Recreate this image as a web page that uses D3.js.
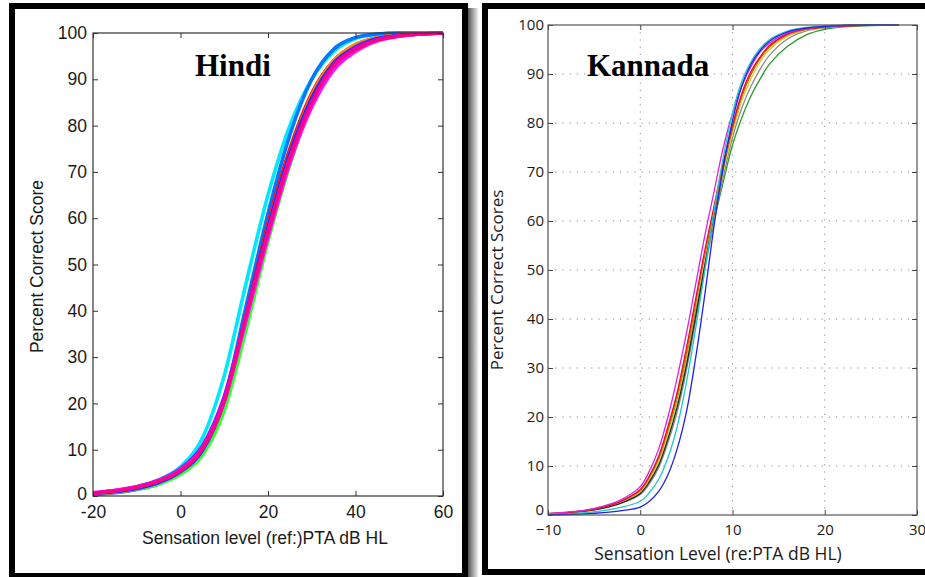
<!DOCTYPE html>
<html><head><meta charset="utf-8">
<script src="https://cdn.jsdelivr.net/npm/d3@7"></script>
<style>
html,body{margin:0;padding:0;background:#fff;}
svg{display:block;}
</style></head>
<body>
<script>
// ---------- DATA ----------
// Hindi panel: sensation level (dB) sample points
const hindiX = [-20,-15,-10,-5,0,5,10,15,20,25,30,35,40,45,50,55,60];
const hindiXTicks = [-20,0,20,40,60];
const hindiYTicks = [0,10,20,30,40,50,60,70,80,90,100];
const hindiCyan    = [0.6,1.1,2.0,3.5,6.3,12.5,26,46,65,80,90,96,98.8,99.7,100,100,100];
const hindiBlue    = [0.3,0.7,1.4,2.6,5.0,9.8,21,41,61,78,90,96.5,99,99.8,100,100,100];
const hindiRed     = [0.5,0.9,1.6,2.9,5.2,9.8,20.5,39,59,75,87,94,97.5,99,99.6,99.9,100];
const hindiOrange  = [0.4,0.8,1.5,2.7,4.9,9.3,19.5,38,58,74,86.5,94,97.5,99,99.6,99.9,100];
const hindiYellow  = [0.5,0.9,1.6,2.8,5.0,9.3,19.5,38,57,73,85,93,97,98.8,99.5,99.8,100];
const hindiGreen   = [0.5,0.9,1.5,2.6,4.7,8.8,18.5,36,55,71.5,84.5,92.5,96.5,98.6,99.4,99.8,100];
const hindiNavy    = [0.5,0.9,1.6,2.9,5.3,9.8,20.5,39,58,74,86,93.5,97,98.8,99.5,99.8,100];
const hindiPurple  = [0.7,1.2,2.0,3.4,5.9,10.8,21.5,39,57,73,85,93,96.8,98.6,99.4,99.8,100];
const hindiMagenta = [0.7,1.2,2.0,3.3,5.7,10.3,20.5,38,56,72,84,92,96,98.3,99.3,99.8,100];
const hindiPink    = [0.6,1.1,1.9,3.2,5.5,10.2,20.5,39,57,73,85,93,96.5,98.5,99.4,99.8,100];
const hindiColors  = ["#00e8ff","#0078ff","#ff1010","#ff8c00","#e8e800","#30ff30","#2030ff","#9010ff","#ff10ff","#ff0088"];

// Kannada panel
const kanX = [-10,-8,-6,-4,-2,0,1,2,3,4,5,6,7,8,9,10,11,12,13,14,16,18,20,22,25,28];
const kanXTicks = [-10,0,10,20,30];
const kanYTicks = [0,10,20,30,40,50,60,70,80,90,100];
const kanGreen   = [0.3,0.5,0.9,1.6,2.8,5.0,7.6,11.3,17,23.5,32,41.5,51,60,68,75.5,81,85.5,89,92,95.7,98,99.1,99.6,99.9,100];
const kanGray    = [0.25,0.45,0.8,1.4,2.4,4.2,6.4,9.7,14.8,21,29.5,39.5,50,60,69,77,83,87.5,91,93.8,97.2,98.8,99.4,99.75,99.95,100];
const kanYellow  = [0.3,0.5,0.9,1.5,2.7,4.8,7.3,11,16.5,23,31.5,41,51,61,70,78,84.5,89,92.5,95,97.7,99,99.5,99.8,100,100];
const kanBlack   = [0.25,0.45,0.8,1.4,2.5,4.4,6.8,10.2,15.5,22,30.5,40.5,51,61.5,71,79,85.5,90,93.3,95.6,98.2,99.2,99.6,99.85,100,100];
const kanOrange  = [0.3,0.5,0.9,1.6,2.8,5.0,7.8,11.7,17.5,24.5,33,43,53,62,71,79,85.5,90,93.2,95.5,98,99.1,99.6,99.85,100,100];
const kanRed     = [0.3,0.5,0.9,1.6,2.9,5.2,8,12,18,25,34,44,54,63,72,79.5,86,90.5,93.5,95.8,98.2,99.2,99.6,99.85,100,100];
const kanMagenta = [0.3,0.6,1.0,1.8,3.2,5.8,9,13.5,20,28,37,47,57,66,75,82,87.5,91.5,94.5,96.3,98.4,99.3,99.7,99.9,100,100];
const kanCyan    = [0.15,0.25,0.5,0.9,1.6,2.8,4.6,7.3,11.7,18,27,38,50,62,73,82,88.5,92.5,95.2,97,98.8,99.5,99.8,99.95,100,100];
const kanBlue    = [0.05,0.1,0.25,0.5,0.9,1.6,2.8,4.8,8.2,13.5,21,32,45,59,71,80.5,87.5,92,94.8,96.7,98.6,99.4,99.75,99.9,100,100];
const kanColors  = ["#2a9a2a","#8a8a8a","#d8d020","#202020","#e07010","#e01020","#e020e0","#20c8c8","#2020f0"];

// ---------- DRAW ----------
const W = 925, H = 577;
const svg = d3.select("body").append("svg").attr("width", W).attr("height", H);
const defs = svg.append("defs");
const grad = defs.append("linearGradient").attr("id","shadowR").attr("x1","0").attr("x2","1").attr("y1","0").attr("y2","0");
grad.append("stop").attr("offset","0").attr("stop-color","#555");
grad.append("stop").attr("offset","1").attr("stop-color","#fff");

// shadow right of left panel
svg.append("rect").attr("x",468).attr("y",8).attr("width",11).attr("height",H).attr("fill","url(#shadowR)");

// Panel borders
svg.append("rect").attr("x",12).attr("y",6).attr("width",453).attr("height",570)
  .attr("fill","#fff").attr("stroke","#000").attr("stroke-width",6);
svg.append("rect").attr("x",485).attr("y",6).attr("width",450).attr("height",566)
  .attr("fill","#fff").attr("stroke","#000").attr("stroke-width",6);

// ---------- Hindi ----------
(function(){
  const L = 93, R = 443, T = 33, B = 496;
  const x = d3.scaleLinear().domain([-20,60]).range([L,R]);
  const y = d3.scaleLinear().domain([0,100]).range([B,T]);
  const g = svg.append("g");
  const series = [hindiCyan,hindiBlue,hindiRed,hindiOrange,hindiYellow,hindiGreen,hindiNavy,hindiPurple,hindiMagenta,hindiPink];
  const clip = defs.append("clipPath").attr("id","clipH");
  clip.append("rect").attr("x",L).attr("y",T-2).attr("width",R-L).attr("height",B-T+2);
  const line = d3.line().x((d,i)=>x(hindiX[i])).y(d=>y(d)).curve(d3.curveMonotoneX);
  const lg = g.append("g").attr("clip-path","url(#clipH)");
  series.forEach((s,k)=>{
    lg.append("path").attr("d",line(s)).attr("fill","none")
      .attr("stroke",hindiColors[k]).attr("stroke-width",3.6).attr("stroke-linejoin","round");
  });
  const font = "'Liberation Sans', Arial, sans-serif";
  const fs = "17.5px";
  const ax = (axis, tx, ty) => {
    const a = g.append("g").attr("transform",`translate(${tx},${ty})`).call(axis);
    a.select(".domain").remove();
    a.selectAll("line").attr("stroke","#333");
    a.selectAll("text").attr("fill","#1a1a1a").style("font-family",font).style("font-size",fs);
    return a;
  };
  ax(d3.axisBottom(x).tickValues(hindiXTicks).tickSize(-5).tickPadding(10).tickFormat(d=>String(d)),0,B)
    .selectAll("text").attr("dy","0.71em");
  ax(d3.axisTop(x).tickValues(hindiXTicks).tickSize(-5).tickFormat(""),0,T);
  const ya = ax(d3.axisLeft(y).tickValues(hindiYTicks).tickSize(-5).tickPadding(6),L,0);
  ya.selectAll(".tick").filter(d=>d===0).select("text").attr("dy","0.2em");
  ax(d3.axisRight(y).tickValues(hindiYTicks).tickSize(-5).tickFormat(""),R,0);
  g.append("rect").attr("x",L).attr("y",T).attr("width",R-L).attr("height",B-T)
    .attr("fill","none").attr("stroke","#333").attr("stroke-width",1.2);
  g.append("text").attr("x",265).attr("y",544).attr("text-anchor","middle")
    .attr("fill","#1a1a1a").style("font-family",font).style("font-size",fs)
    .text("Sensation level (ref:)PTA dB HL");
  g.append("text").attr("transform",`translate(43,${(T+B)/2+2}) rotate(-90)`).attr("text-anchor","middle")
    .attr("fill","#1a1a1a").style("font-family",font).style("font-size",fs)
    .text("Percent Correct Score");
  g.append("text").attr("x",195).attr("y",76).attr("fill","#000")
    .style("font-family","'Liberation Serif','Times New Roman',serif").style("font-weight","bold").style("font-size","31px")
    .text("Hindi");
})();

// ---------- Kannada ----------
(function(){
  const L = 548, R = 917, T = 25, B = 515;
  const x = d3.scaleLinear().domain([-10,30]).range([L,R]);
  const y = d3.scaleLinear().domain([0,100]).range([B,T]);
  const g = svg.append("g");
  const font = "'Open Sans', 'Noto Sans', sans-serif";
  // grid
  const grid = g.append("g").attr("stroke","#888").attr("stroke-width",1).attr("stroke-dasharray","1.2,6");
  kanXTicks.slice(1,-1).forEach(v=>grid.append("line").attr("x1",x(v)).attr("x2",x(v)).attr("y1",T).attr("y2",B));
  kanYTicks.slice(1,-1).forEach(v=>grid.append("line").attr("x1",L).attr("x2",R).attr("y1",y(v)).attr("y2",y(v)));
  const series = [kanGreen,kanGray,kanYellow,kanBlack,kanOrange,kanRed,kanMagenta,kanCyan,kanBlue];
  const line = d3.line().x((d,i)=>x(kanX[i])).y(d=>y(d)).curve(d3.curveCatmullRom.alpha(0.5));
  series.forEach((s,k)=>{
    g.append("path").attr("d",line(s)).attr("fill","none")
      .attr("stroke",kanColors[k]).attr("stroke-width",1.3);
  });
  const ax = (axis, tx, ty) => {
    const a = g.append("g").attr("transform",`translate(${tx},${ty})`).call(axis);
    a.select(".domain").remove();
    a.selectAll("line").attr("stroke","#444");
    a.selectAll("text").attr("fill","#1a1a1a").style("font-family",font).style("font-size","15px");
    return a;
  };
  const fmt = d => d < 0 ? "\u2212" + Math.abs(d) : String(d);
  ax(d3.axisBottom(x).tickValues(kanXTicks).tickSize(-5).tickPadding(9).tickFormat(fmt),0,B);
  ax(d3.axisTop(x).tickValues(kanXTicks).tickSize(-5).tickFormat(""),0,T);
  const ya = ax(d3.axisLeft(y).tickValues(kanYTicks).tickSize(-5).tickPadding(4),L,0);
  ya.selectAll(".tick").filter(d=>d===0).select("text").attr("dy","-0.05em");
  g.append("rect").attr("x",L).attr("y",T).attr("width",R-L).attr("height",B-T)
    .attr("fill","none").attr("stroke","#555").attr("stroke-width",1.2);
  ax(d3.axisRight(y).tickValues(kanYTicks).tickSize(-5).tickFormat(""),R,0);
  g.append("text").attr("x",718).attr("y",560).attr("text-anchor","middle")
    .attr("fill","#1a1a1a").style("font-family",font).style("font-size","17.5px")
    .text("Sensation Level (re:PTA dB HL)");
  g.append("text").attr("transform",`translate(503,${(T+B)/2+10}) rotate(-90)`).attr("text-anchor","middle")
    .attr("fill","#1a1a1a").style("font-family",font).style("font-size","17px")
    .text("Percent Correct Scores");
  g.append("text").attr("x",587).attr("y",76).attr("fill","#000")
    .style("font-family","'Liberation Serif','Times New Roman',serif").style("font-weight","bold").style("font-size","31px")
    .text("Kannada");
})();
</script>
</body></html>
